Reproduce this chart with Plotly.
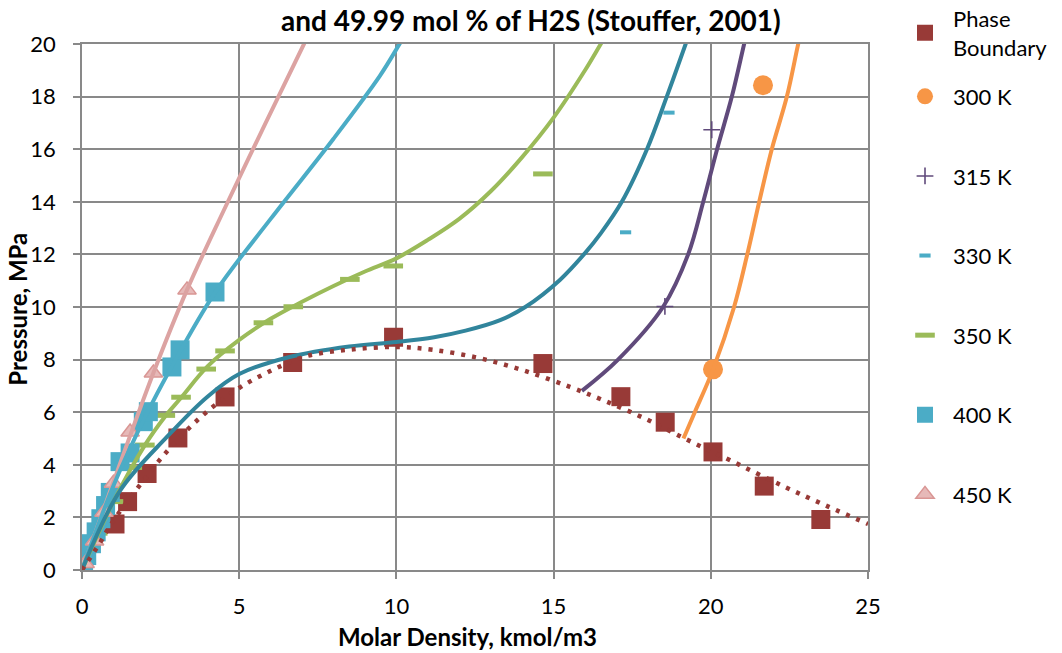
import plotly.graph_objects as go

# ---------------- data ----------------
# Phase boundary (measured)
pb_x = [1.05, 1.45, 2.07, 3.05, 4.55, 6.70, 9.91, 14.66, 17.14, 18.55, 20.07, 21.70, 23.50]
pb_y = [1.75, 2.60, 3.67, 5.02, 6.58, 7.89, 8.85, 7.85, 6.59, 5.62, 4.49, 3.19, 1.92]
# Phase boundary trend (dotted)
pbt_x = [0, 0.57, 0.95, 1.84, 2.8, 3.85, 5.05, 6.39, 7.16, 8.52, 10.0, 11.17, 12.66,
         14.09, 15.52, 16.57, 17.94, 19.27, 20.6, 22.3, 23.7, 25.0]
pbt_y = [0, 1.03, 1.79, 3.23, 4.64, 5.89, 6.96, 7.79, 8.14, 8.38, 8.48, 8.37, 8.05,
         7.57, 6.96, 6.46, 5.74, 4.94, 4.18, 3.19, 2.43, 1.75]

# 300 K
t300_x = [20.07, 21.66]
t300_y = [7.63, 18.43]
c300_x = [19.13, 19.49, 20.07, 20.74, 21.16, 21.54, 21.94, 22.42, 22.78, 22.92]
c300_y = [5.0, 6.0, 7.62, 10.0, 12.0, 14.0, 16.0, 18.0, 20.0, 20.7]

# 315 K
t315_x = [18.54, 20.03]
t315_y = [10.02, 16.74]
c315_x = [15.9, 17.05, 18.48, 19.28, 19.76, 20.2, 20.67, 21.06, 21.2]
c315_y = [6.81, 8.0, 10.0, 12.0, 14.0, 16.0, 18.0, 20.0, 20.7]

# 330 K
t330_x = [17.29, 18.67]
t330_y = [12.84, 17.39]
c330_x = [0, 1.2, 2.7, 4.0, 5.0, 6.6, 8.5, 10.0, 11.2, 12.2, 13.3, 14.1, 15.2, 16.0,
          16.5, 17.17, 17.97, 18.6, 19.2, 19.4]
c330_y = [0, 3.0, 5.06, 6.6, 7.45, 8.1, 8.5, 8.67, 8.85, 9.1, 9.5, 10.0, 11.03, 12.05,
          12.8, 14.0, 16.0, 18.0, 20.0, 20.7]

# 350 K
t350_x = [0.5, 1.0, 1.6, 2.0, 2.65, 3.15, 3.95, 4.55, 5.77, 6.72, 8.52, 9.9, 14.66]
t350_y = [1.4, 2.6, 3.9, 4.75, 5.88, 6.57, 7.64, 8.33, 9.4, 10.01, 11.05, 11.56, 15.06]
c350_x = [0, 1, 2, 2.65, 3.15, 4, 5, 6, 7, 8, 9, 10, 11, 12, 13, 14, 15, 16, 16.5, 16.7]
c350_y = [0, 2.6, 4.75, 5.85, 6.55, 7.75, 8.75, 9.55, 10.2, 10.8, 11.35, 11.85, 12.55,
          13.35, 14.4, 15.7, 17.2, 19.0, 20.0, 20.4]

# 400 K
t400_x = [0.05, 0.15, 0.3, 0.45, 0.6, 0.75, 0.9, 1.21, 1.53, 1.95, 2.11, 2.86, 3.12, 4.23]
t400_y = [0.2, 0.55, 1.0, 1.45, 1.95, 2.45, 2.95, 4.12, 4.45, 5.64, 6.02, 7.72, 8.37, 10.57]
c400_x = [0, 1, 2, 2.86, 4.23, 6, 8, 9.48, 10.1, 10.4]
c400_y = [0, 3.2, 5.8, 7.75, 10.55, 13.35, 16.4, 18.8, 20.0, 20.6]

# 450 K
t450_x = [0.1, 0.4, 0.7, 1.0, 1.53, 2.27, 3.34]
t450_y = [0.25, 1.1, 2.2, 3.3, 5.25, 7.49, 10.65]
c450_x = [0, 1, 2.27, 3.34, 4.5, 5.8, 7.06, 7.3]
c450_y = [0, 3.35, 7.49, 10.65, 13.65, 16.9, 20.0, 20.6]

x_ticks = [0, 5, 10, 15, 20, 25]
y_ticks = [0, 2, 4, 6, 8, 10, 12, 14, 16, 18, 20]

title_text = "and 49.99 mol % of H2S (Stouffer, 2001)"
x_title = "Molar Density, kmol/m3"
y_title = "Pressure, MPa"

# ---------------- styling ----------------
FONT = "Lato"
C_PB = "#983A37"
C_300 = "#F79646"
C_315 = "#604A7B"
C_330M = "#4BACC6"
C_330L = "#31859C"
C_350 = "#9BBB59"
C_400 = "#4BACC6"
C_450F = "#E6B9B8"
C_450L = "#D99694"
GRID = "#898989"

fig = go.Figure()

# marker series (legend)
fig.add_trace(go.Scatter(x=pb_x, y=pb_y, mode="markers", name="Phase<br>Boundary",
                         legend="legend",
                         marker=dict(symbol="square", size=19, color=C_PB, line=dict(width=0))))
fig.add_trace(go.Scatter(x=t300_x, y=t300_y, mode="markers", name="300 K", legendgroup="300",
                         legend="legend2",
                         marker=dict(symbol="circle", size=20, color=C_300, line=dict(width=0))))
fig.add_trace(go.Scatter(x=t315_x, y=t315_y, mode="markers", name="315 K", legendgroup="315",
                         legend="legend2",
                         marker=dict(symbol="cross-thin", size=12, color=C_315,
                                     line=dict(width=1.6, color=C_315))))
fig.add_trace(go.Scatter(x=t330_x, y=t330_y, mode="markers", name="330 K", legendgroup="330",
                         legend="legend2",
                         marker=dict(symbol="line-ew", size=8, color=C_330M,
                                     line=dict(width=4, color=C_330M))))
fig.add_trace(go.Scatter(x=t350_x, y=t350_y, mode="markers", name="350 K", legendgroup="350",
                         legend="legend2",
                         marker=dict(symbol="line-ew", size=14, color=C_350,
                                     line=dict(width=5, color=C_350))))
fig.add_trace(go.Scatter(x=t400_x, y=t400_y, mode="markers", name="400 K", legendgroup="400",
                         legend="legend2",
                         marker=dict(symbol="square", size=19, color=C_400, line=dict(width=0))))
fig.add_trace(go.Scatter(x=t450_x, y=t450_y, mode="markers", name="450 K", legendgroup="450",
                         legend="legend2",
                         marker=dict(symbol="triangle-up", size=16, color=C_450F,
                                     line=dict(width=1.5, color=C_450L))))

# model curves (no legend)
curve_specs = [
    (c450_x, c450_y, "#DCA3A2"),
    (c400_x, c400_y, C_400),
    (c350_x, c350_y, C_350),
    (c330_x, c330_y, C_330L),
    (c315_x, c315_y, C_315),
    (c300_x, c300_y, C_300),
]
for cx, cy, col in curve_specs:
    fig.add_trace(go.Scatter(x=cx, y=cy, mode="lines", showlegend=False, hoverinfo="skip",
                             line=dict(color=col, width=4, shape="spline", smoothing=1.0)))

fig.add_trace(go.Scatter(x=pbt_x, y=pbt_y, mode="lines", showlegend=False, hoverinfo="skip",
                         line=dict(color=C_PB, width=4.5, dash="4px,7px",
                                   shape="spline", smoothing=1.0)))

leg_font = dict(family=FONT, size=22, color="#000000")
fig.update_layout(
    width=1062, height=653,
    margin=dict(l=82, r=194, t=44, b=83, autoexpand=False),
    paper_bgcolor="white", plot_bgcolor="white",
    font=dict(family=FONT, size=22, color="#000000"),
    showlegend=True,
    legend=dict(x=1.0369, y=1.088, xanchor="left", yanchor="top", font=leg_font,
                itemwidth=46, itemsizing="trace", bgcolor="rgba(0,0,0,0)"),
    legend2=dict(x=1.0369, y=0.940, xanchor="left", yanchor="top", font=leg_font,
                 itemwidth=46, itemsizing="trace", bgcolor="rgba(0,0,0,0)",
                 traceorder="grouped", tracegroupgap=48),
    xaxis=dict(range=[0, 25], tickvals=x_ticks, ticktext=[str(v) for v in x_ticks],
               showgrid=True, gridcolor=GRID, gridwidth=1.8,
               showline=True, linecolor=GRID, linewidth=1.8, mirror=True,
               ticks="outside", ticklen=7, tickcolor=GRID, tickwidth=1.8,
               zeroline=False, ticklabelstandoff=9,
               tickfont=dict(family=FONT, size=22, color="#000000")),
    yaxis=dict(range=[0, 20], tickvals=y_ticks, ticktext=[str(v) for v in y_ticks],
               showgrid=True, gridcolor=GRID, gridwidth=1.8,
               showline=True, linecolor=GRID, linewidth=1.8, mirror=True,
               ticks="outside", ticklen=7, tickcolor=GRID, tickwidth=1.8,
               zeroline=False, ticklabelstandoff=13,
               tickfont=dict(family=FONT, size=22, color="#000000")),
    annotations=[
        dict(text="<b>" + title_text + "</b>", xref="paper", yref="paper",
             x=0.571, y=1.0456, xanchor="center", yanchor="middle", showarrow=False,
             borderpad=0,
             font=dict(family=FONT, size=28, color="#000000")),
        dict(text="<b>" + x_title + "</b>", xref="paper", yref="paper",
             x=0.491, y=-0.127, xanchor="center", yanchor="middle", showarrow=False,
             font=dict(family=FONT, size=24, color="#000000")),
        dict(text="<b>" + y_title + "</b>", xref="paper", yref="paper",
             x=-0.082, y=0.496, xanchor="center", yanchor="middle", showarrow=False,
             textangle=-90, font=dict(family=FONT, size=24, color="#000000")),
    ],
)

fig.write_html("out.html")
